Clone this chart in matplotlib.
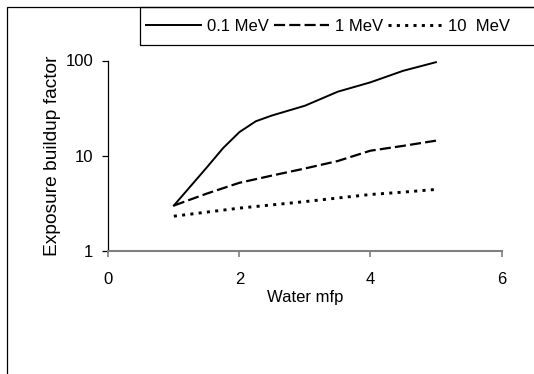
import matplotlib
matplotlib.use("Agg")
import matplotlib.pyplot as plt
from matplotlib.patches import Rectangle

plt.rcParams['font.family'] = ['Liberation Sans', 'DejaVu Sans']
plt.rcParams['font.size'] = 12
plt.rcParams['lines.scale_dashes'] = False

# Data
x_01 = [1, 1.5, 1.75, 2, 2.25, 2.5, 3, 3.5, 4, 4.5, 5]
b_01 = [3.0, 7.5, 12.0, 17.7, 23.0, 26.5, 33.5, 47.0, 59.0, 78.0, 96.0]
x_1 = [1, 1.5, 2, 2.5, 3, 3.5, 4, 4.5, 5]
b_1 = [3.0, 4.0, 5.2, 6.2, 7.35, 8.8, 11.3, 12.7, 14.4]
x_10 = [1, 2, 2.5, 3, 3.5, 4, 4.5, 5]
b_10 = [2.32, 2.82, 3.05, 3.3, 3.6, 3.92, 4.15, 4.43]
labels = ['0.1 MeV', '1 MeV', '10  MeV']
xticks = [0, 2, 4, 6]
yticks = [1, 10, 100]

W, H = 534, 374
fig = plt.figure(figsize=(W / 100, H / 100), dpi=100)
ax = fig.add_axes([108.3 / W, 1 - 251 / H, (501.5 - 108.3) / W, (251 - 60.5) / H])

l1, = ax.plot(x_01, b_01, color='black', lw=1.4, solid_joinstyle='round')
l2, = ax.plot(x_1, b_1, color='black', lw=1.6, dashes=(8.0, 3.0), dash_capstyle='butt')
l3, = ax.plot(x_10, b_10, color='black', lw=2.1, dashes=(2.2, 3.8), dash_capstyle='butt')

ax.set_yscale('log')
ax.set_xlim(0, 6)
ax.set_ylim(1, 100)
ax.set_xticks(xticks)
ax.set_xticklabels([str(t) for t in xticks])
ax.set_yticks(yticks)
ax.set_yticklabels([str(t) for t in yticks])
ax.minorticks_off()

for s in ['top', 'right']:
    ax.spines[s].set_visible(False)
ax.spines['left'].set_color('black')
ax.spines['left'].set_linewidth(0.9)
ax.spines['bottom'].set_color('#808080')
ax.spines['bottom'].set_linewidth(1.5)
ax.tick_params(axis='x', direction='out', length=4, width=1.2, color='#808080', pad=11)
ax.tick_params(axis='y', direction='out', length=4, width=0.9, color='black', pad=7)

ax.set_xlabel('Water mfp', labelpad=2)
ax.set_ylabel('Exposure buildup factor', labelpad=3, fontsize=13.8)

# outer chart border
fig.patches.append(Rectangle((7.3 / W, -0.1), 1.2, 1.1 - 7.3 / H, transform=fig.transFigure,
                             fill=False, edgecolor='black', lw=0.9))
# legend box
fig.patches.append(Rectangle((140 / W, 1 - 45 / H), 1.0, (45 - 7.3) / H, transform=fig.transFigure,
                             fill=False, edgecolor='black', lw=0.9))

fig.legend([l1, l2, l3], labels, ncol=3, loc='center left',
           bbox_to_anchor=(146 / W, 1 - 26.5 / H), frameon=False,
           handlelength=3.3, handletextpad=0.35, columnspacing=0.3, borderpad=0,
           borderaxespad=0)

fig.savefig('out.png', dpi=100)
